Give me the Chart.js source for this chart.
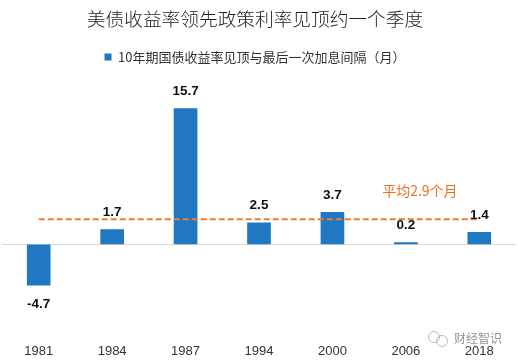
<!DOCTYPE html>
<html>
<head>
<meta charset="utf-8">
<style>
  html, body { margin: 0; padding: 0; background: #fff; }
  canvas { display: block; }
</style>
<script src="https://cdn.jsdelivr.net/npm/chart.js@4"></script>
</head>
<body>
<canvas id="chart" width="518" height="362"></canvas>
<script>
const years   = ["1981", "1984", "1987", "1994", "2000", "2006", "2018"];
const gaps    = [-4.7, 1.7, 15.7, 2.5, 3.7, 0.2, 1.4];
const average = [2.9, 2.9, 2.9, 2.9, 2.9, 2.9, 2.9];

const TITLE     = "美债收益率领先政策利率见顶约一个季度";
const BAR_LABEL = "10年期国债收益率见顶与最后一次加息间隔（月）";
const AVG_LABEL = "平均2.9个月";
const MARK      = "财经智识";

const CJK  = '"Noto Sans CJK SC", "Liberation Sans", sans-serif';
const LATIN = '"Liberation Sans", Arial, sans-serif';

// reference has title + legend sitting a little left of centre
const nudge = {
  id: "nudge",
  afterLayout(chart) {
    chart.titleBlock.left -= 4;
    chart.titleBlock.right -= 4;
    chart.legend.left -= 4;
    chart.legend.right -= 4;
  }
};

// value labels above / below the bars
const valueLabels = {
  id: "valueLabels",
  afterDatasetsDraw(chart) {
    const { ctx } = chart;
    const bars = chart.getDatasetMeta(0).data;
    ctx.save();
    ctx.font = "bold 13.5px " + LATIN;
    ctx.fillStyle = "#111";
    ctx.textAlign = "center";
    ctx.textBaseline = "middle";
    bars.forEach((bar, i) => {
      const off = gaps[i] < 0 ? 19 : -17;
      ctx.fillText(gaps[i].toFixed(1), bar.x, bar.y + off);
    });
    ctx.restore();
  }
};

// "average" note and the watermark
const notes = {
  id: "notes",
  afterDraw(chart) {
    const { ctx, scales } = chart;
    ctx.save();
    ctx.font = "14px " + CJK;
    ctx.fillStyle = "#f0701e";
    ctx.textAlign = "center";
    ctx.textBaseline = "middle";
    ctx.fillText(AVG_LABEL, scales.x.getPixelForValue(5) + 14, scales.y.getPixelForValue(6.2));

    ctx.font = "12px " + CJK;
    ctx.fillStyle = "rgba(130,130,130,0.85)";
    ctx.textAlign = "left";
    ctx.fillText(MARK, 454, 338);

    ctx.strokeStyle = "rgba(170,170,170,0.8)";
    ctx.lineWidth = 1;
    ctx.beginPath();
    ctx.arc(434, 337, 5.5, 0, Math.PI * 2);
    ctx.stroke();
    ctx.beginPath();
    ctx.arc(442, 341, 5.5, 0, Math.PI * 2);
    ctx.stroke();
    ctx.restore();
  }
};

new Chart(document.getElementById("chart").getContext("2d"), {
  data: {
    labels: years,
    datasets: [
      {
        type: "bar",
        label: BAR_LABEL,
        data: gaps,
        backgroundColor: "#1f78c1",
        barThickness: 23,
        order: 2
      },
      {
        type: "line",
        label: "平均",
        data: average,
        borderColor: "#ed7d31",
        borderWidth: 2,
        borderDash: [6, 3],
        pointRadius: 0,
        fill: false,
        order: 1
      }
    ]
  },
  options: {
    responsive: false,
    animation: false,
    layout: { padding: { left: 2, right: 2, top: 8, bottom: -3 } },
    plugins: {
      title: {
        display: true,
        text: TITLE,
        color: "#222",
        font: { family: CJK, size: 18.7, weight: "300" },
        padding: { top: 0, bottom: 12 }
      },
      legend: {
        display: true,
        position: "top",
        labels: {
          color: "#333",
          font: { family: CJK, size: 13 },
          boxWidth: 7,
          boxHeight: 7,
          padding: 8,
          filter: item => item.datasetIndex === 0
        }
      },
      tooltip: { enabled: false }
    },
    scales: {
      x: {
        grid: { display: false },
        border: { display: false },
        ticks: {
          color: "#333",
          font: { family: LATIN, size: 13 },
          maxRotation: 0,
          padding: 6
        }
      },
      y: {
        min: -9.82,
        max: 19.75,
        display: true,
        afterFit(scale) { scale.width = 0; },
        grid: {
          drawTicks: false,
          lineWidth: 1,
          color: c => (c.tick.value === 0 ? "#d9d9d9" : "rgba(0,0,0,0)")
        },
        border: { display: false },
        ticks: { display: false, stepSize: 2 }
      }
    }
  },
  plugins: [nudge, valueLabels, notes]
});
</script>
</body>
</html>
